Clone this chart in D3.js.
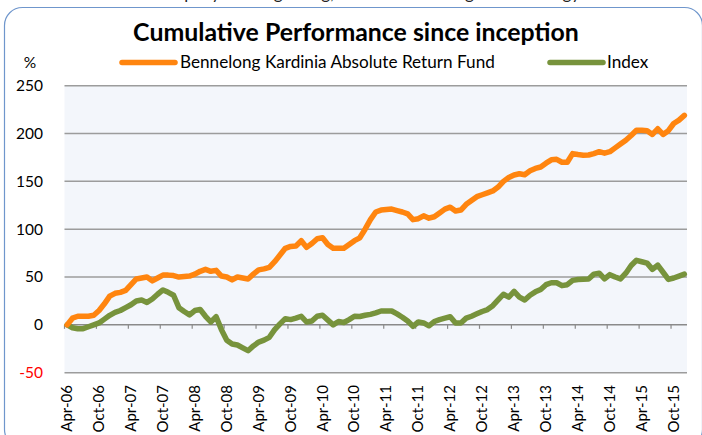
<!DOCTYPE html>
<html>
<head>
<meta charset="utf-8">
<script src="https://cdn.jsdelivr.net/npm/d3@7"></script>
<style>
  body { margin: 0; background: #fff; }
  svg { display: block; font-family: Lato, "Open Sans", sans-serif; }
</style>
</head>
<body>
<div id="chart"></div>
<script>
// monthly categories Apr-06 .. Dec-15
const months = d3.timeMonth.range(new Date(2006, 3, 1), new Date(2016, 0, 1));
const tickLabels = ["Apr-06", "Oct-06", "Apr-07", "Oct-07", "Apr-08", "Oct-08", "Apr-09", "Oct-09",
    "Apr-10", "Oct-10", "Apr-11", "Oct-11", "Apr-12", "Oct-12", "Apr-13", "Oct-13",
    "Apr-14", "Oct-14", "Apr-15", "Oct-15"];
const yTicks = [-50, 0, 50, 100, 150, 200, 250];

const fundName = "Bennelong Kardinia Absolute Return Fund";
const fund = [0, 7, 9, 9, 9, 10, 15, 22, 30, 33, 34, 36, 42, 48, 49, 50, 46, 49, 52, 52,
    51.5, 50, 50.5, 51, 53, 56, 58, 56, 57, 51, 50, 47, 50, 49, 48, 53, 57.5, 58.5, 60, 66,
    73, 80, 82, 82.5, 88, 81, 85, 90, 91, 84, 80, 80, 80, 84, 88, 91, 100, 110, 118, 120,
    120.5, 121, 119.5, 118, 116, 110, 111, 114, 111.5, 113, 117, 121, 123, 119, 120, 126, 130, 134, 136, 138,
    140, 144, 150, 154, 156.7, 158, 157, 161, 163.5, 165, 169, 172.5, 173, 170, 170, 179, 178, 177.3, 177.6, 179,
    181, 179.5, 181, 185, 189, 193, 198, 203.5, 203.5, 203, 199, 205, 199, 203, 210.5, 214, 219];
const indexName = "Index";
const index = [0, -3, -4, -4, -2, 0, 2, 6, 10, 13, 15, 18, 21, 25, 26, 23.5, 27, 32, 36.5, 34,
    31, 18, 14, 10.5, 15, 16, 9, 3, 8.5, -5, -16, -20, -21, -24, -27, -22, -18, -16, -13, -5,
    1, 6.5, 5.5, 7, 9, 3, 4, 9, 10, 5, 0, 3.5, 2.5, 5.5, 9, 8.7, 10, 11, 12.5, 14.5,
    14.6, 14.5, 11.5, 8, 4, -1.5, 3, 2, -1, 3.5, 5.5, 7, 8.5, 2, 2, 7, 9, 11.5, 14, 16,
    20, 26, 32, 29, 35, 29, 26, 31, 34.5, 37, 42, 44, 44, 41, 42, 46.5, 47.5, 47.8, 48, 53,
    54, 48, 52.5, 50, 48, 54, 62, 67.5, 66, 64.5, 58, 62.5, 55, 47.5, 49, 51, 53];

const W = 702, H = 435;
const orange = "#FF850F", green = "#77933C";

const svg = d3.select("#chart").append("svg")
    .attr("width", W)
    .attr("height", H);

// cut-off line of the surrounding document, only its lowest part shows
svg.append("text")
    .attr("x", 352).attr("y", -1)
    .attr("text-anchor", "middle")
    .attr("font-size", 17)
    .attr("fill", "#222")
    .text("the company's strong rating, as well as the long-term strategy");

// card border
svg.append("rect")
    .attr("x", 4.5).attr("y", 7.5)
    .attr("width", 698).attr("height", 440)
    .attr("rx", 18)
    .attr("fill", "#fff")
    .attr("stroke", "#6F96CC")
    .attr("stroke-width", 1.2);

const fitText = (sel, width) => {
    const base = +sel.attr("font-size");
    const len = sel.node().getComputedTextLength();
    sel.attr("font-size", base * width / len);
};

const title = svg.append("text")
    .attr("x", 356).attr("y", 41)
    .attr("text-anchor", "middle")
    .attr("font-weight", "bold")
    .attr("font-size", 22)
    .attr("fill", "#000")
    .text("Cumulative Performance since inception");
fitText(title, 446);

const x = d3.scaleBand()
    .domain(months)
    .range([64.5, 687]);
const y = d3.scaleLinear()
    .domain([-50, 250])
    .range([372.7, 85.7]);

const cx = (d, i) => x(months[i]) + x.bandwidth() / 2;

svg.append("rect")
    .attr("x", x.range()[0]).attr("y", y(250))
    .attr("width", x.range()[1] - x.range()[0])
    .attr("height", y(-50) - y(250))
    .attr("fill", "#F3F6FB");

// gridlines
svg.append("g")
    .selectAll("line")
    .data(yTicks)
    .join("line")
    .attr("x1", x.range()[0]).attr("x2", x.range()[1])
    .attr("y1", d => y(d)).attr("y2", d => y(d))
    .attr("stroke", d => d === 0 ? "#8A8A8A" : "#9C9C9C")
    .attr("stroke-width", 1.5);

// y labels
svg.append("g")
    .selectAll("text")
    .data(yTicks)
    .join("text")
    .attr("x", 43).attr("y", d => y(d))
    .attr("dy", "0.35em")
    .attr("text-anchor", "end")
    .attr("font-size", 15.5)
    .attr("fill", d => d < 0 ? "#FF0000" : "#000")
    .text(d => d);

svg.append("text")
    .attr("x", 30).attr("y", 68)
    .attr("text-anchor", "middle")
    .attr("font-size", 15.5)
    .text("%");

// x axis ticks and labels, every 6 months
const fmt = d3.timeFormat("%b-%y");
const tickMonths = months.filter((d, i) => i % 6 === 0);

svg.append("g")
    .selectAll("line")
    .data(tickMonths)
    .join("line")
    .attr("x1", d => x(d)).attr("x2", d => x(d))
    .attr("y1", y(0)).attr("y2", y(0) + 4)
    .attr("stroke", "#8A8A8A")
    .attr("stroke-width", 1.2);

svg.append("g")
    .selectAll("text")
    .data(tickMonths)
    .join("text")
    .attr("transform", d => `translate(${x(d) + x.bandwidth() / 2 + 5},385) rotate(-90)`)
    .attr("text-anchor", "end")
    .attr("font-size", 15)
    .attr("fill", "#000")
    .text((d, i) => tickLabels[i] || fmt(d));

// series
const line = d3.line()
    .x(cx)
    .y(d => y(d))
    .curve(d3.curveLinear);

svg.append("path")
    .datum(index)
    .attr("d", line)
    .attr("fill", "none")
    .attr("stroke", green)
    .attr("stroke-width", 5.5)
    .attr("stroke-linejoin", "round")
    .attr("stroke-linecap", "round");

svg.append("path")
    .datum(fund)
    .attr("d", line)
    .attr("fill", "none")
    .attr("stroke", orange)
    .attr("stroke-width", 5.5)
    .attr("stroke-linejoin", "round")
    .attr("stroke-linecap", "round");

// legend
const legend = svg.append("g");
legend.append("line")
    .attr("x1", 122).attr("x2", 175)
    .attr("y1", 62.5).attr("y2", 62.5)
    .attr("stroke", orange).attr("stroke-width", 5.5)
    .attr("stroke-linecap", "round");
const lt = legend.append("text")
    .attr("x", 180).attr("y", 68)
    .attr("font-size", 15)
    .text(fundName);
fitText(lt, 315);

legend.append("line")
    .attr("x1", 550).attr("x2", 603)
    .attr("y1", 62.5).attr("y2", 62.5)
    .attr("stroke", green).attr("stroke-width", 5.5)
    .attr("stroke-linecap", "round");
legend.append("text")
    .attr("x", 607).attr("y", 68)
    .attr("font-size", lt.attr("font-size"))
    .text(indexName);
</script>
</body>
</html>
